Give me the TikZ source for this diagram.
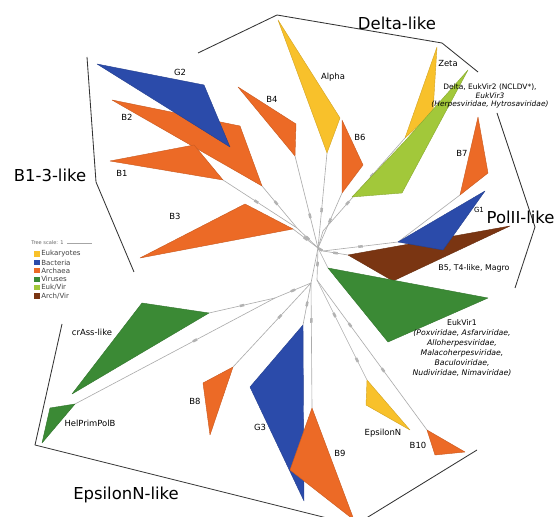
\documentclass[tikz,border=0pt]{standalone}
\usepackage{fontspec}
\setmainfont{DejaVu Sans}
\usetikzlibrary{positioning,calc,decorations.markings}

\definecolor{euk}{HTML}{F8C12B}
\definecolor{bac}{HTML}{2B4BAA}
\definecolor{arc}{HTML}{EC6A26}
\definecolor{vir}{HTML}{3B8A35}
\definecolor{ekv}{HTML}{A2C83A}
\definecolor{arv}{HTML}{7A3512}

\tikzset{
	branch/.style={draw=gray!65, line width=0.45pt},
	bracket/.style={draw=black!80, line width=0.6pt, line join=round},
	clade/.style={fill=#1, draw=#1!85!black, line width=0.3pt, line join=round},
	bsat/.style={postaction={decorate,decoration={markings,mark=at position #1 with {\fill[gray!60] (-1.6pt,-0.9pt) rectangle (1.6pt,0.9pt);}}}},
	lab/.style={font=\fontsize{6}{7}\selectfont, inner sep=1pt},
	big/.style={font=\fontsize{11.7}{13}\selectfont, inner sep=1pt},
	desc/.style={font=\fontsize{5.3}{6.2}\selectfont, align=center, inner sep=1pt}
}

\begin{document}
\begin{tikzpicture}[x=0.025cm,y=-0.025cm]
	\useasboundingbox (0,0) rectangle (559,517);
	\clip (0,0) rectangle (559,517);
	%Tree nodes - root, inner junctions and clade apexes%
	%===========================================================
	\coordinate (root) at (318,248); %Centre of the tree
	\coordinate (jB) at (297,228); %B1, B2, G2 junction
	\coordinate (aB1) at (223,180);
	\coordinate (aB2) at (262,186);
	\coordinate (aG2) at (230,147);
	\coordinate (aB3) at (293,229);
	\coordinate (aB4) at (295,156);
	\coordinate (aAl) at (327,153); %Alpha
	\coordinate (aB6) at (342,193);
	\coordinate (jZ) at (323,231); %Zeta + Delta junction
	\coordinate (aZe) at (405,138);
	\coordinate (aEV) at (352,197); %Euk/Vir clade
	\coordinate (jP) at (323,251); %PolII junction
	\coordinate (aG1) at (398,242);
	\coordinate (aB7) at (460,195);
	\coordinate (aB5) at (348,255);
	\coordinate (aV1) at (328,268); %EukVir1
	\coordinate (jE) at (317,280); %EpsilonN + B10 junction
	\coordinate (aEp) at (367,380);
	\coordinate (aB10) at (427,430);
	\coordinate (jS) at (311,283); %lower left junction
	\coordinate (aB9) at (312,408);
	\coordinate (aG3) at (303,325);
	\coordinate (aB8) at (233,367);
	\coordinate (jC) at (275,298); %crAss + HelPrimPolB junction
	\coordinate (aCr) at (209,313);
	\coordinate (aHP) at (75,404);
	%=============================================================================================================
	%Branches%
	%=============================================================================================================
	\draw[branch, bsat=.5] (root) -- (jB);
	\draw[branch, bsat=.55] (jB) -- (aB1);
	\draw[branch, bsat=.6] (jB) -- (aB2);
	\draw[branch] (aB2) -- (aG2); %hidden under B2
	\draw[branch, bsat=.5] (root) -- (aB3);
	\draw[branch, bsat=.35] (root) -- (aB4);
	\draw[branch, bsat=.4] (root) -- (aAl);
	\draw[branch, bsat=.5] (root) -- (aB6);
	\draw[branch] (root) -- (jZ);
	\draw[branch, bsat=.3, bsat=.6] (jZ) -- (aZe);
	\draw[branch, bsat=.5] (root) -- (jP);
	\draw[branch, bsat=.5] (jP) -- (aG1);
	\draw[branch] (aG1) -- (aB7);
	\draw[branch, bsat=.5] (jP) -- (aB5);
	\draw[branch] (root) -- (aV1);
	\draw[branch, bsat=.5] (root) -- (jE);
	\draw[branch, bsat=.35, bsat=.8] (jE) -- (aEp);
	\draw[branch, bsat=.3, bsat=.6] (jE) -- (aB10);
	\draw[branch] (root) -- (jS);
	\draw[branch, bsat=.3] (jS) -- (aB9);
	\draw[branch, bsat=.5] (jS) -- (aG3);
	\draw[branch, bsat=.4] (jS) -- (aB8);
	\draw[branch, bsat=.5] (jS) -- (jC);
	\draw[branch, bsat=.5] (jC) -- (aCr);
	\draw[branch, bsat=.4] (jC) -- (aHP);
	%=============================================================================================================
	%Collapsed clades%
	%=============================================================================================================
	\fill[clade=arc] (112,100) -- (240,126) -- (aB2) -- cycle; %B2
	\fill[clade=bac] (97,64) -- (204,85) -- (aG2) -- cycle; %G2
	\fill[clade=arc] (110,161) -- (194,145) -- (aB1) -- cycle; %B1
	\fill[clade=arc] (140,258) -- (245,204) -- (aB3) -- cycle; %B3
	\fill[clade=arc] (238,87) -- (296,124) -- (aB4) -- cycle; %B4
	\fill[clade=euk] (278,20) -- (340,118) -- (aAl) -- cycle; %Alpha
	\fill[clade=arc] (342,120) -- (363,165) -- (aB6) -- cycle; %B6
	\fill[clade=euk] (437,47) -- (433,112) -- (aZe) -- cycle; %Zeta
	\fill[clade=ekv] (468,70) -- (402,193) -- (aEV) -- (406,140) -- cycle; %Delta, EukVir2, EukVir3
	\fill[clade=arc] (478,117) -- (488,173) -- (aB7) -- cycle; %B7
	\fill[clade=arv] (510,226) -- (393,281) -- (aB5) -- cycle; %B5, T4-like, Magro
	\fill[clade=bac] (485,191) -- (443,250) -- (aG1) -- cycle; %G1
	\fill[clade=vir] (488,298) -- (388,342) -- (aV1) -- cycle; %EukVir1
	\fill[clade=euk] (410,430) -- (366,405) -- (aEp) -- cycle; %EpsilonN
	\fill[clade=arc] (465,452) -- (435,455) -- (aB10) -- cycle; %B10
	\fill[clade=bac] (250,387) -- (304,501) -- (aG3) -- cycle; %G3
	\fill[clade=arc] (290,470) -- (354,520) -- (aB9) -- cycle; %B9
	\fill[clade=arc] (203,383) -- (210,435) -- (aB8) -- cycle; %B8
	\fill[clade=vir] (142,303) -- (72,394) -- (aCr) -- cycle; %crAss-like
	\fill[clade=vir] (50,408) -- (42,443) -- (aHP) -- cycle; %HelPrimPolB
	%=============================================================================================================
	%Group brackets%
	%=============================================================================================================
	\draw[bracket] (198,53) -- (277,15) -- (442,43) -- (478,72); %Delta-like
	\draw[bracket] (497,113) -- (535,227) -- (515,288); %PolII-like
	\draw[bracket] (87,57) -- (96,182) -- (134,272); %B1-3-like
	\draw[bracket] (62,324) -- (35,445) -- (355,525) -- (477,450); %EpsilonN-like
	\node[big] (tDelta) at (397,23) {Delta-like};
	\node[big, anchor=west] (tPol) at (485,217) {PolII-like};
	\node[big] (tB13) at (50,175) {B1-3-like};
	\node[big] (tEps) at (126,495) {EpsilonN-like};
	%Clade labels
	\node[lab] (lG2) at (180,72) {G2};
	\node[lab] (lB2) at (127,117) {B2};
	\node[lab] (lB1) at (122,173) {B1};
	\node[lab] (lB3) at (175,216) {B3};
	\node[lab] (lB4) at (272,99) {B4};
	\node[lab] (lAl) at (333,77) {Alpha};
	\node[lab] (lB6) at (360,137) {B6};
	\node[lab] (lZe) at (448,63) {Zeta};
	\node[desc] (lDe) at (490,96) {Delta, EukVir2 (NCLDV*),\\\textit{EukVir3}\\\textit{(Herpesviridae, Hytrosaviridae)}};
	\node[lab] (lB7) at (462,153) {B7};
	\node[lab, font=\fontsize{5}{6}\selectfont] (lG1) at (479,210) {G1};
	\node[lab, font=\fontsize{5.6}{6.5}\selectfont] (lB5) at (474,268) {B5, T4-like, Magro};
	\node[desc, font=\fontsize{5.5}{7.1}\selectfont] (lV1) at (462,348) {EukVir1\\\textit{(Poxviridae, Asfarviridae,}\\\textit{Alloherpesviridae,}\\\textit{Malacoherpesviridae,}\\\textit{Baculoviridae,}\\\textit{Nudiviridae, Nimaviridae)}};
	\node[lab] (lCr) at (92,332) {crAss-like};
	\node[lab] (lHP) at (90,423) {HelPrimPolB};
	\node[lab] (lB8) at (195,401) {B8};
	\node[lab] (lG3) at (260,427) {G3};
	\node[lab] (lEp) at (383,433) {EpsilonN};
	\node[lab] (lB10) at (418,445) {B10};
	\node[lab] (lB9) at (340,453) {B9};
	%=============================================================================================================
	%Legend%
	%=============================================================================================================
	\node[font=\fontsize{3.6}{4}\selectfont, text=black!60, anchor=west, inner sep=0pt] (tscale) at (31,243) {Tree scale: 1};
	\draw[gray!70, line width=0.4pt] (tscale.east) ++(3,0) coordinate (sc1) -- ++(25,0) coordinate (sc2);
	\foreach \c/\t [count=\i] in {euk/Eukaryotes, bac/Bacteria, arc/Archaea, vir/Viruses, ekv/{Euk/Vir}, arv/{Arch/Vir}}
	{
		\node[fill=\c, minimum size=3.6pt, inner sep=0pt] (k\i) at (37,245.6+8.4*\i) {};
		\node[anchor=west, font=\fontsize{5}{6}\selectfont, text=black!75, inner sep=0pt] (kt\i) at (41,245.6+8.4*\i) {\t};
	}
\end{tikzpicture}
\end{document}
